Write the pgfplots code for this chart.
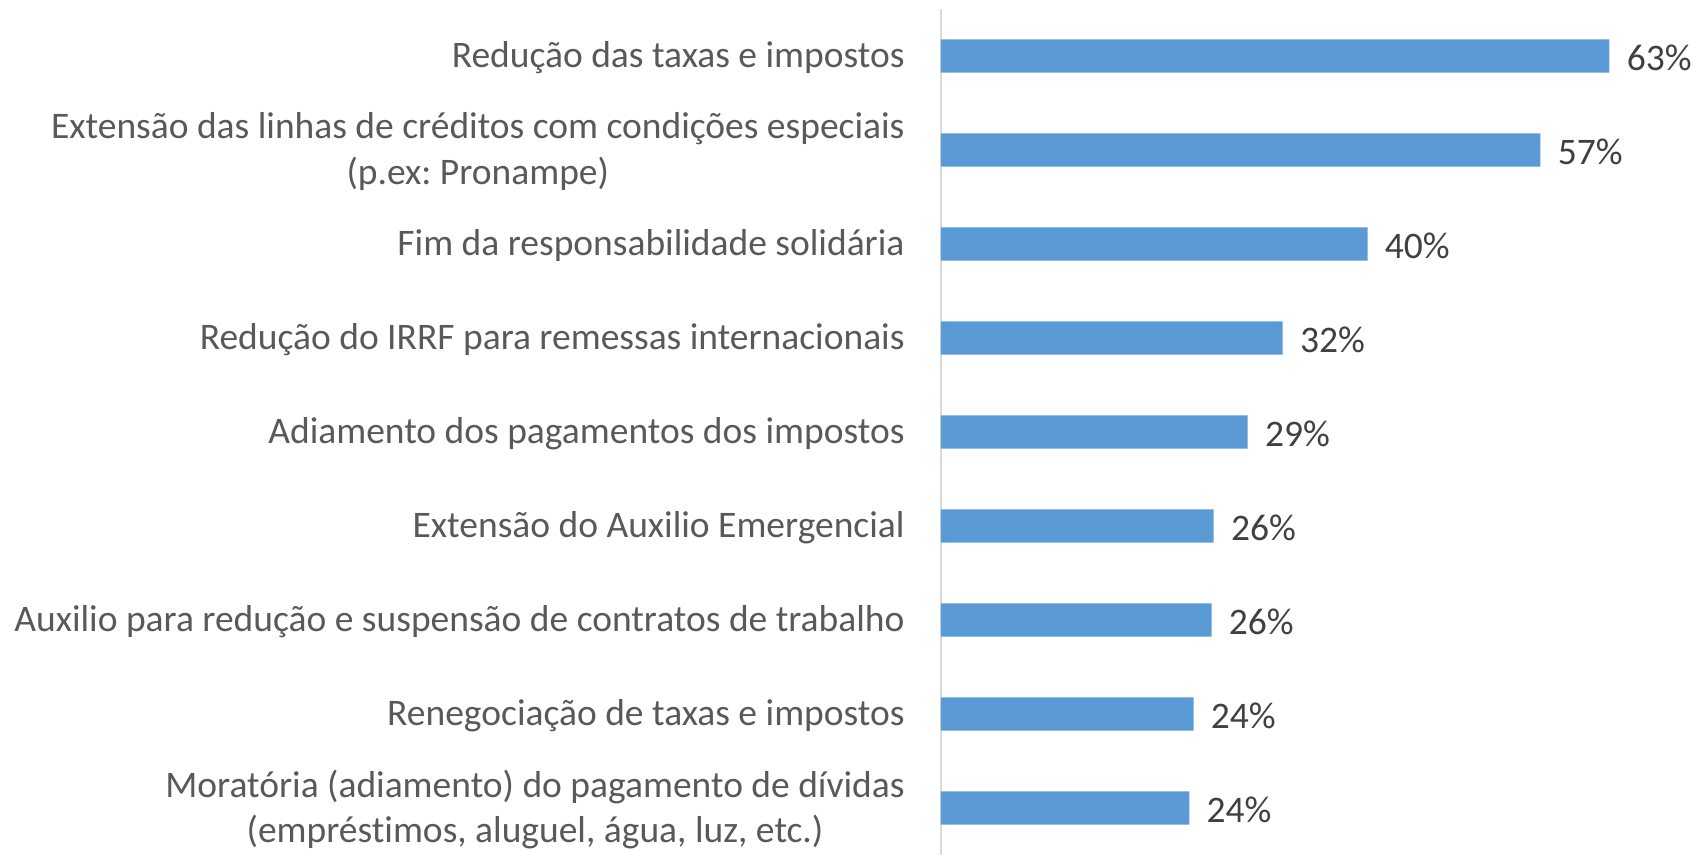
\documentclass[border=0pt]{standalone}
\usepackage{pgfplots}
\pgfplotsset{compat=1.18}
\usepackage{pgfplotstable}
\usepackage{fontspec}
\setmainfont{Carlito}[Ligatures={NoCommon}]
\definecolor{barblue}{HTML}{5B9BD5}
\definecolor{lblgray}{HTML}{595959}
\definecolor{valgray}{HTML}{404040}
\definecolor{axgray}{HTML}{D9D9D9}

\pgfplotstableread{
i v l
0 63.0 63
1 56.5 57
2 40.2 40
3 32.2 32
4 28.9 29
5 25.7 26
6 25.5 26
7 23.8 24
8 23.4 24
}\datatab

\begin{document}
\frenchspacing
\begin{tikzpicture}[x=1pt,y=1pt]
\begin{axis}[
  at={(0,0)}, anchor=south west,
  scale only axis, width=371.35pt, height=423pt,
  xbar, bar width=16.7pt,
  xmin=0, xmax=70, ymin=-0.5, ymax=8.5, y dir=reverse,
  axis x line=none,
  axis y line*=left,
  y axis line style={draw=axgray, line width=0.7pt},
  xtick=\empty,
  ytick={0,...,8},
  major tick length=0pt,
  yticklabels={
    Redução das taxas e impostos,
    {Extensão das linhas de créditos com condições especiais\\(p.ex: Pronampe)},
    Fim da responsabilidade solidária,
    Redução do IRRF para remessas internacionais,
    Adiamento dos pagamentos dos impostos,
    Extensão do Auxilio Emergencial,
    Auxilio para redução e suspensão de contratos de trabalho,
    Renegociação de taxas e impostos,
    {Moratória (adiamento) do pagamento de dívidas\\(empréstimos, aluguel, água, luz, etc.)}
  },
  yticklabel style={font=\fontsize{18.75}{22.7}\selectfont, text=lblgray, align=center, inner sep=0pt, xshift=-18pt, yshift=-0.8pt},
  point meta=explicit,
  nodes near coords={\pgfmathprintnumber[fixed,precision=0,assume math mode=true]{\pgfplotspointmeta}\%},
  nodes near coords style={font=\fontsize{18.75}{22}\selectfont, text=valgray, anchor=west, inner sep=0pt, xshift=8.5pt, yshift=-1pt},
  clip=false,
]
\addplot[fill=barblue, draw=none] table[x=v, y=i, meta=l] {\datatab};
\end{axis}
\path (-470.5,0) rectangle (377.5,427.5);
\end{tikzpicture}
\end{document}
